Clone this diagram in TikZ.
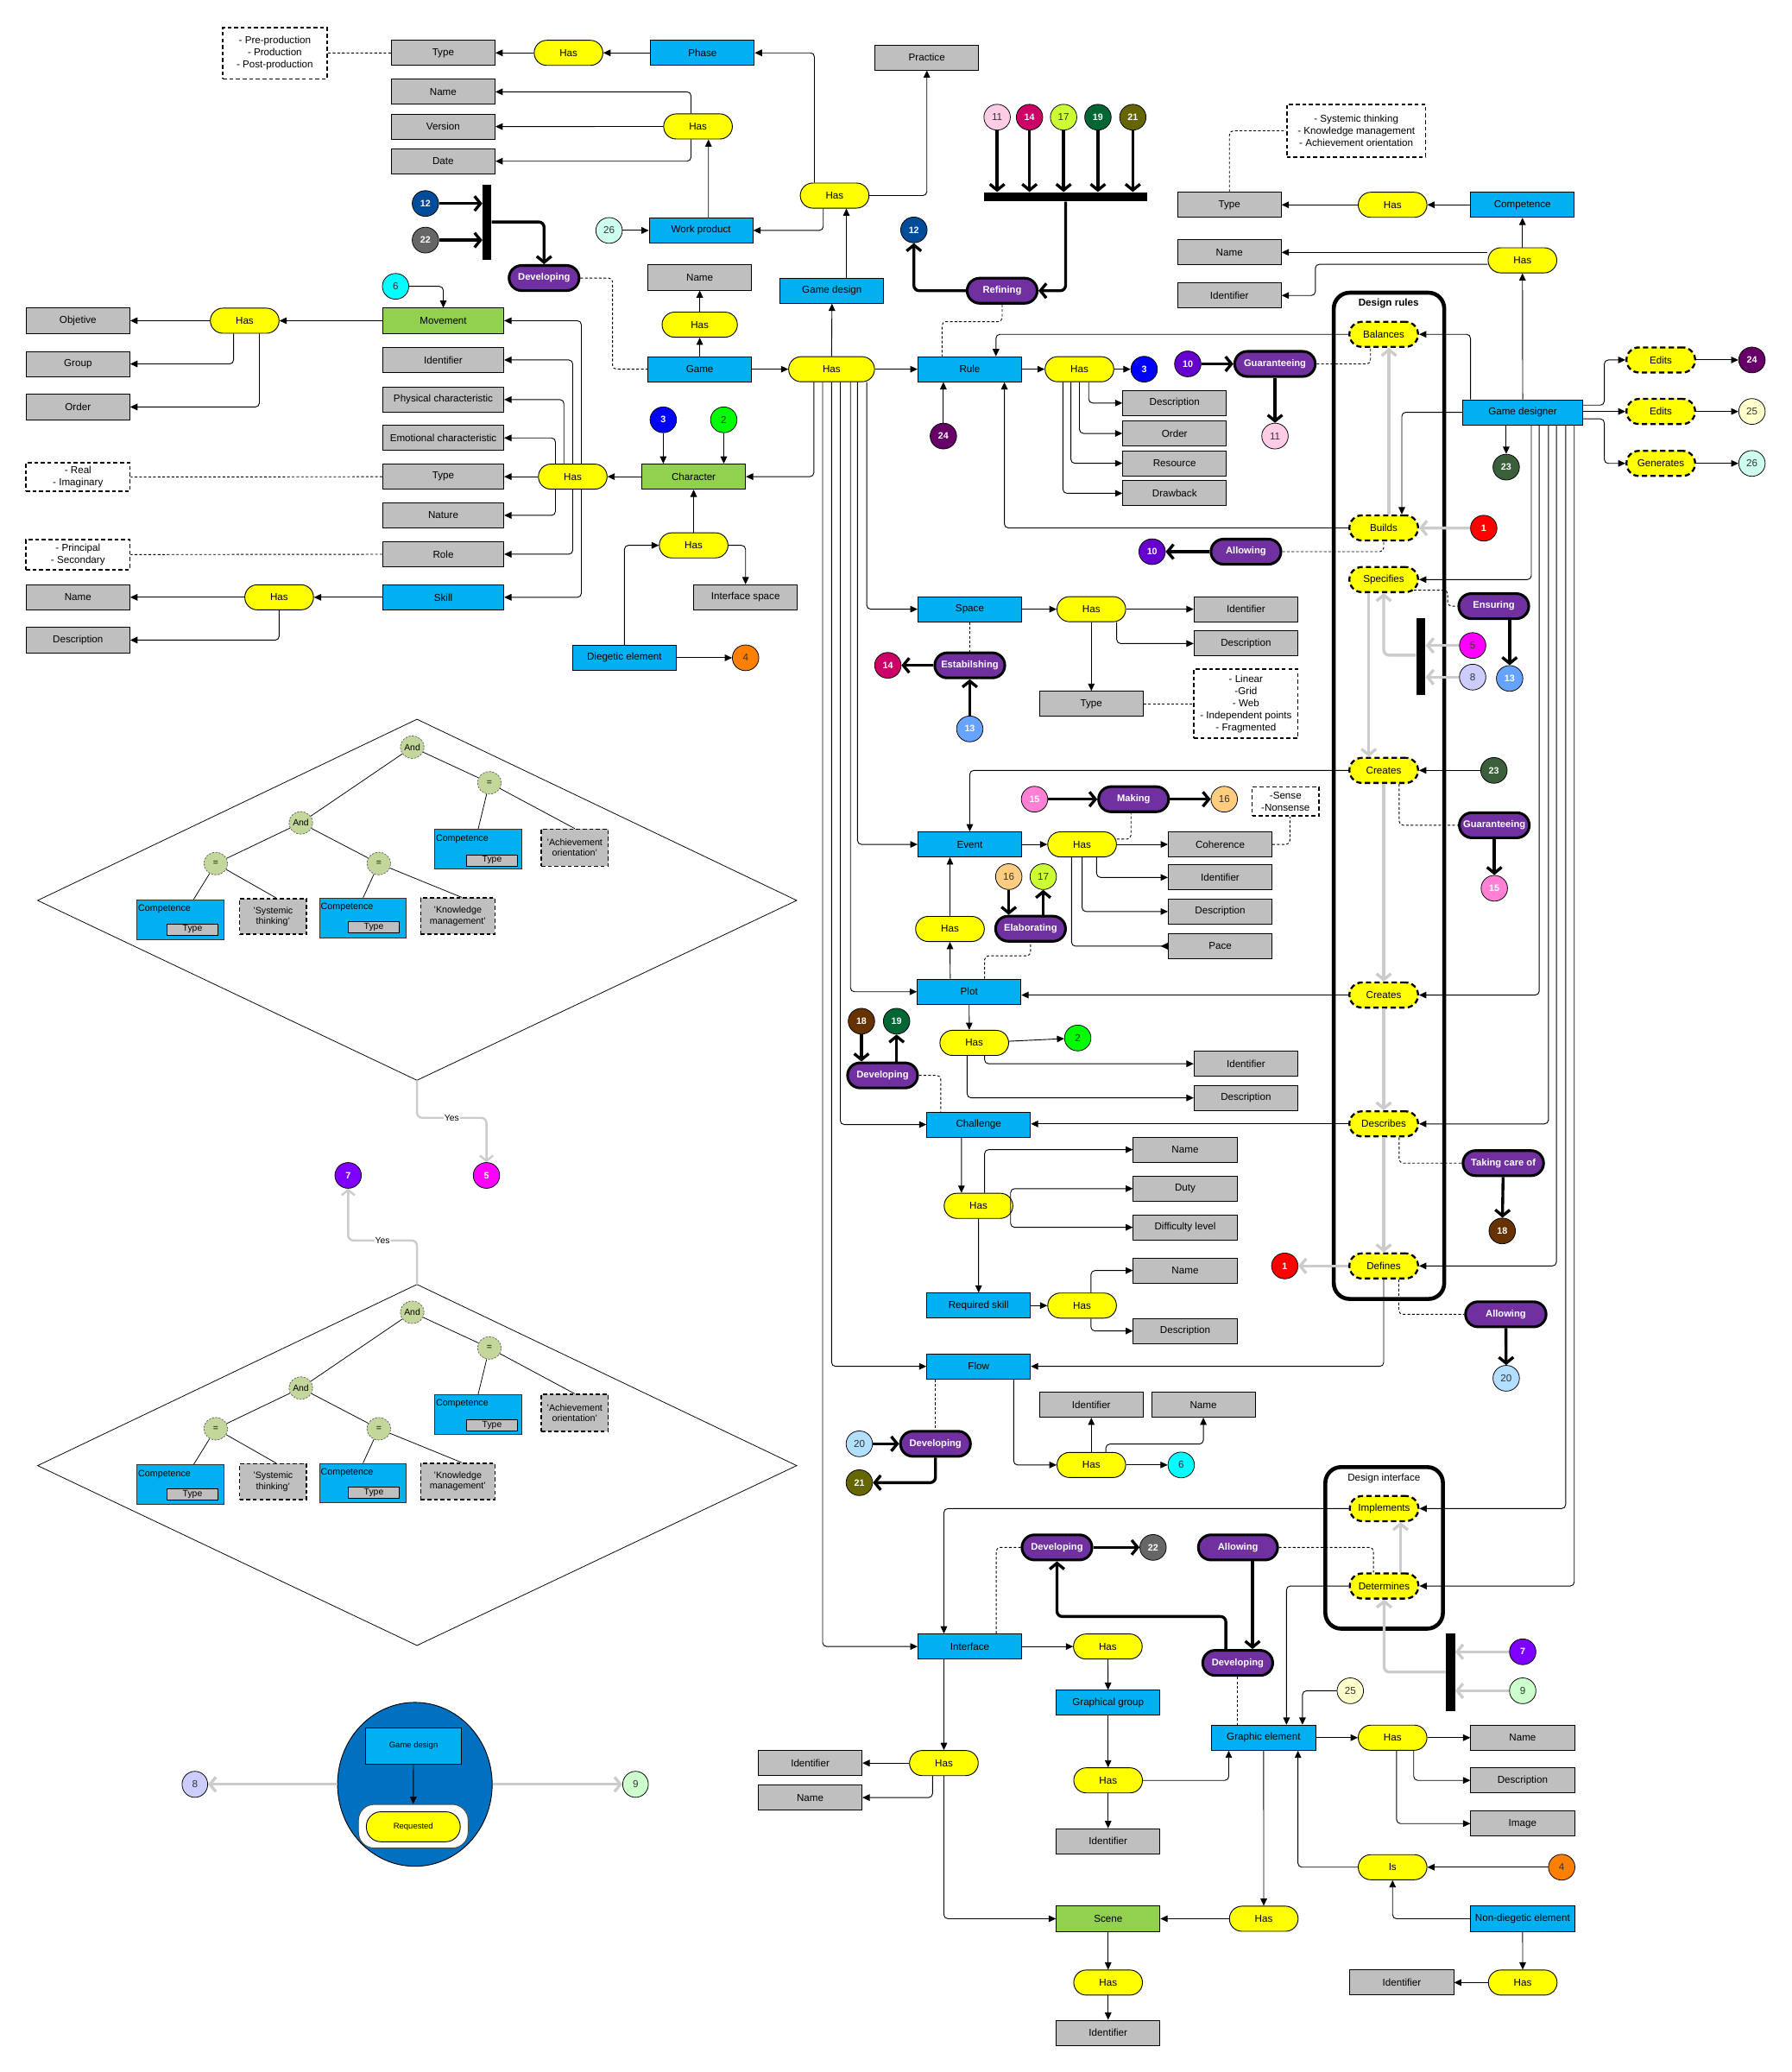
\documentclass[tikz,border=0pt]{standalone}
\usepackage{fontspec}
\setmainfont{Liberation Sans}
\usetikzlibrary{arrows.meta,shapes.geometric,calc}
\definecolor{cgray}{HTML}{BFBFBF}
\definecolor{cblue}{HTML}{00B0F0}
\definecolor{cgreen}{HTML}{92D050}
\definecolor{cyell}{HTML}{FFFF00}
\definecolor{cpurp}{HTML}{7030A0}
\definecolor{lgray}{HTML}{CCCCCC}
\definecolor{cball}{HTML}{0070C0}
\definecolor{ctree}{HTML}{C4D79B}
\definecolor{kA}{HTML}{FF0000}
\definecolor{kB}{HTML}{00FF00}
\definecolor{kC}{HTML}{0000FF}
\definecolor{kD}{HTML}{FF8000}
\definecolor{kE}{HTML}{FF00FF}
\definecolor{kF}{HTML}{00FFFF}
\definecolor{kG}{HTML}{7F00FF}
\definecolor{kH}{HTML}{CCCCFF}
\definecolor{kI}{HTML}{CCFFCC}
\definecolor{kJ}{HTML}{6600CC}
\definecolor{kK}{HTML}{FFCCE6}
\definecolor{kL}{HTML}{004C99}
\definecolor{kM}{HTML}{66A3FF}
\definecolor{kN}{HTML}{CC0066}
\definecolor{kO}{HTML}{FF80D5}
\definecolor{kP}{HTML}{FFCC80}
\definecolor{kQ}{HTML}{CCFF33}
\definecolor{kR}{HTML}{663300}
\definecolor{kS}{HTML}{006633}
\definecolor{kT}{HTML}{B3DFFF}
\definecolor{kU}{HTML}{666600}
\definecolor{kV}{HTML}{666666}
\definecolor{kW}{HTML}{3B5E3B}
\definecolor{kX}{HTML}{660066}
\definecolor{kY}{HTML}{FFFFCC}
\definecolor{kZ}{HTML}{CCFFEE}

\newcommand\mygtree[2]{%
\begin{scope}[yshift=-#2pt]
\draw[line width=0.5pt] (28.5,681.4) -- (315.6,544.3) -- (603,681.4) -- (315.6,817.5) -- cycle;
\coordinate (dt#1) at (315.6,544.3);
\coordinate (db#1) at (315.6,817.5);
\node[tell] (aA#1) at (312,565.4) {And};
\node[tell] (eR#1) at (370.4,592.4) {=};
\node[tell] (aB#1) at (227.7,622.7) {And};
\node[tell] (eL#1) at (163.3,653.5) {=};
\node[tell] (eM#1) at (286.7,653.5) {=};
\node[tcomp] (cR#1) at (361.9,642.7) {};
\node[tcap] at (cR#1.north west) {Competence};
\node[ttype] at (372.4,651) {Type};
\node[tq, minimum width=50.7pt, minimum height=28pt] (qR#1) at (435,641.5) {'Achievement\\orientation'};
\node[tcomp] (cL#1) at (136.6,695.8) {};
\node[tcap] at (cL#1.north west) {Competence};
\node[ttype] at (145.7,703.3) {Type};
\node[tq, minimum width=50.7pt, minimum height=27pt] (qL#1) at (206.7,693.5) {'Systemic\\thinking'};
\node[tcomp] (cM#1) at (274.8,694.7) {};
\node[tcap] at (cM#1.north west) {Competence};
\node[ttype] at (282.9,701.6) {Type};
\node[tq, minimum width=56.3pt, minimum height=27.4pt] (qM#1) at (346.5,693.3) {'Knowledge\\management'};
\draw[line width=0.5pt] (aA#1) -- (aB#1) (aA#1) -- (eR#1) (eR#1) -- (cR#1.north) (eR#1) -- (qR#1.north)
  (aB#1) -- (eL#1) (aB#1) -- (eM#1) (eL#1) -- ([xshift=10pt]cL#1.north) (eL#1) -- ([xshift=2.3pt]qL#1.north)
  (eM#1) -- (cM#1.north) (eM#1) -- ([xshift=3pt]qM#1.north);
\end{scope}}

\begin{document}
\begin{tikzpicture}[x=1pt,y=-1pt,
  every node/.style={font=\fontsize{7.6}{9.2}\selectfont, inner sep=1pt, align=center},
  basebox/.style={draw, line width=0.6pt, minimum height=19pt, text=black, rectangle},
  gbox/.style={basebox, fill=cgray, minimum width=78.5pt},
  bbox/.style={basebox, fill=cblue, minimum width=78.5pt},
  grbox/.style={basebox, fill=cgreen, minimum width=78.5pt},
  ybox/.style={basebox, rounded corners=9.5pt, fill=cyell, minimum width=52pt},
  ydash/.style={ybox, line width=1.5pt, dash pattern=on 4pt off 2.5pt},
  pbox/.style={draw, line width=2pt, rectangle, rounded corners=9.5pt, fill=cpurp, minimum width=53pt, minimum height=19pt, text=white, font=\bfseries\fontsize{7.3}{8}\selectfont},
  notebox/.style={draw, rectangle, line width=1.1pt, dash pattern=on 3pt off 2pt, fill=white},
  num/.style={ellipse, draw, line width=0.5pt, minimum width=20pt, minimum height=19.5pt, inner sep=0pt, text=black!80},
  wn/.style={num, text=white, font=\bfseries\fontsize{7}{8}\selectfont},
  barn/.style={fill=black, draw=none, rectangle, inner sep=0pt},
  ln/.style={draw, line width=0.6pt},
  arr/.style={ln, -{Triangle[length=5.5pt,width=5pt]}},
  rc/.style={rounded corners=3pt},
  dotl/.style={draw, line width=0.6pt, dash pattern=on 2pt off 1.5pt},
  thk/.style={draw, line width=2.2pt, rounded corners=4pt, -{Straight Barb[length=4.5pt,width=11pt]}},
  gthk/.style={draw=lgray, line width=2.2pt, rounded corners=4pt, -{Straight Barb[length=4.5pt,width=11pt]}},
  yesarr/.style={draw=lgray, line width=1.6pt, rounded corners=4pt, -{Straight Barb[length=4pt,width=10pt]}},
  tell/.style={ellipse, draw=black!60, fill=ctree, line width=0.5pt, dash pattern=on 1.5pt off 1pt, minimum width=18pt, minimum height=17pt, inner sep=0pt, font=\fontsize{6.8}{8}\selectfont},
  tcomp/.style={rectangle, draw=black!80, fill=cblue, line width=0.6pt, minimum width=65.7pt, minimum height=30pt},
  tcap/.style={anchor=north west, inner sep=1pt, yshift=-3pt, font=\fontsize{7}{8}\selectfont},
  ttype/.style={rectangle, draw, fill=cgray, line width=0.5pt, minimum width=39pt, minimum height=8.5pt, inner sep=0pt, font=\fontsize{6.8}{7}\selectfont},
  tq/.style={rectangle, draw, fill=cgray, line width=1pt, dash pattern=on 3pt off 2pt, inner sep=0.5pt, font=\fontsize{7}{8}\selectfont},
]
\useasboundingbox (0,0) rectangle (1356,1568);
\fill[white] (0,0) rectangle (1356,1568);

% ---------- containers ----------
\draw[line width=3pt, rounded corners=12pt] (1009.5,221.5) rectangle (1093.1,983);
\node[font=\bfseries\fontsize{7.6}{9}\selectfont] (drlab) at (1051,229.5) {Design rules};
\draw[line width=3pt, rounded corners=12pt] (1003.1,1110.2) rectangle (1092.1,1232.5);
\node (dilab) at (1047.5,1118.5) {Design interface};

% ---------- top-left ----------
\node[notebox, minimum width=78.8pt, minimum height=39pt] (noteP) at (208,40.2) {- Pre-production\\- Production\\- Post-production};
\node[gbox] (typeP) at (335.4,40) {Type};
\node[ybox] (hasP) at (430.3,40) {Has};
\node[bbox] (phase) at (531.7,40) {Phase};
\node[gbox] (practice) at (701.5,43.5) {Practice};
\node[gbox] (nameW) at (335.4,69.5) {Name};
\node[gbox] (verW) at (335.4,95.8) {Version};
\node[gbox] (dateW) at (335.4,122) {Date};
\node[ybox] (hasW) at (528.3,95.7) {Has};
\node[bbox] (wp) at (530.6,174.4) {Work product};
\node[num,fill=kZ] (n26a) at (461,174.4) {26};
\node[ybox] (hasGD) at (631.7,148) {Has};
\node[bbox] (gdes) at (629.7,220) {Game design};
\node[gbox] (nameG) at (529.6,210) {Name};
\node[ybox, minimum width=57pt] (hasG) at (529.6,245.7) {Has};
\node[bbox] (game) at (529.6,279.4) {Game};
\node[ybox, minimum width=65pt] (hasM) at (629.4,279.4) {Has};
\node[bbox] (rule) at (734,279.4) {Rule};
\node[ybox] (hasR) at (817,279.4) {Has};
\node[wn,fill=kC] (n3a) at (866,279.4) {3};
\node[gbox] (descR) at (889,305) {Description};
\node[gbox] (orderR) at (889,328) {Order};
\node[gbox] (resR) at (889,350.6) {Resource};
\node[gbox] (drawR) at (889,373.3) {Drawback};
\node[wn,fill=kX] (n24a) at (714,330) {24};
\node[wn,fill=kL] (n12a) at (691.7,174) {12};
\node[pbox] (refining) at (758.5,220) {Refining};
\node[num,fill=kK] (n11a) at (754.7,88.7) {11};
\node[wn,fill=kN] (n14a) at (779.2,88.7) {14};
\node[num,fill=kQ] (n17a) at (805,88.7) {17};
\node[wn,fill=kS] (n19a) at (831,88.7) {19};
\node[wn,fill=kU] (n21a) at (857.4,88.7) {21};
\node[barn, minimum width=123pt, minimum height=7pt] (barT) at (806.5,149) {};
\node[pbox] (devT) at (411.8,210.4) {Developing};
\node[wn,fill=kL] (n12b) at (322,154) {12};
\node[wn,fill=kV] (n22a) at (322,181.7) {22};
\node[barn, minimum width=6.6pt, minimum height=57pt] (barL) at (368.6,168) {};

% ---------- left ----------
\node[num,fill=kF] (n6a) at (299.4,216.7) {6};
\node[grbox, minimum width=91.6pt] (movement) at (335.5,242.7) {Movement};
\node[ybox] (hasMv) at (185.2,242.7) {Has};
\node[gbox] (objetive) at (59,242.7) {Objetive};
\node[gbox] (group) at (59,275.4) {Group};
\node[gbox] (orderM) at (59,308) {Order};
\node[gbox, minimum width=91.6pt] (idC) at (335.5,272.4) {Identifier};
\node[gbox, minimum width=91.6pt] (phys) at (335.5,302.4) {Physical characteristic};
\node[gbox, minimum width=91.6pt] (emo) at (335.5,331.4) {Emotional characteristic};
\node[gbox, minimum width=91.6pt] (typeC) at (335.5,360.7) {Type};
\node[gbox, minimum width=91.6pt] (nature) at (335.5,390) {Nature};
\node[gbox, minimum width=91.6pt] (role) at (335.5,419.4) {Role};
\node[bbox, minimum width=91.6pt] (skill) at (335.5,452) {Skill};
\node[ybox] (hasC) at (433.5,360.7) {Has};
\node[grbox] (character) at (525,360.7) {Character};
\node[wn,fill=kC] (n3b) at (502,317.7) {3};
\node[num,fill=kB] (n2a) at (547.8,317.7) {2};
\node[ybox] (hasCh) at (525,412.7) {Has};
\node[gbox] (ispace) at (564.3,452) {Interface space};
\node[bbox] (diegetic) at (472.6,497.8) {Diegetic element};
\node[num,fill=kD] (n4a) at (564.3,497.8) {4};
\node[notebox, minimum width=78.7pt, minimum height=21.8pt] (noteR) at (59,361) {- Real\\- Imaginary};
\node[notebox, minimum width=78.7pt, minimum height=22.6pt] (noteS) at (59,419.7) {- Principal\\- Secondary};
\node[gbox] (nameS) at (59,452) {Name};
\node[gbox] (descS) at (59,484.4) {Description};
\node[ybox] (hasS) at (211.3,452) {Has};

% ---------- right top ----------
\node[notebox, minimum width=105pt, minimum height=39.7pt] (noteC) at (1026.5,99) {- Systemic thinking\\- Knowledge management\\- Achievement orientation};
\node[gbox] (typeK) at (930.5,155) {Type};
\node[ybox] (hasK) at (1054,155) {Has};
\node[bbox] (comp) at (1152.3,155) {Competence};
\node[gbox] (nameK) at (930.5,191) {Name};
\node[gbox] (idK) at (930.5,223.6) {Identifier};
\node[ybox] (hasK2) at (1152.3,197) {Has};
\node[bbox, minimum width=91pt] (gd) at (1152.5,312) {Game designer};
\node[ydash] (balances) at (1047.3,253) {Balances};
\node[ydash] (builds) at (1047.3,399.5) {Builds};
\node[ydash] (specifies) at (1047.3,438.6) {Specifies};
\node[ydash] (creates1) at (1047.3,583) {Creates};
\node[ydash] (creates2) at (1047.3,753) {Creates};
\node[ydash] (describes) at (1047.3,850.5) {Describes};
\node[ydash] (defines) at (1047.3,958) {Defines};
\node[ydash] (edits1) at (1257,272.4) {Edits};
\node[ydash] (edits2) at (1257,311.4) {Edits};
\node[ydash] (generates) at (1257,350.7) {Generates};
\node[wn,fill=kX] (n24b) at (1326,272.4) {24};
\node[num,fill=kY] (n25a) at (1326,311.4) {25};
\node[num,fill=kZ] (n26b) at (1326,350.7) {26};
\node[wn,fill=kW] (n23a) at (1140,353.5) {23};
\node[wn,fill=kJ] (n10a) at (899,275.4) {10};
\node[pbox, minimum width=61pt] (guar1) at (965,275.4) {Guaranteeing};
\node[num,fill=kK] (n11b) at (965,330) {11};
\node[wn,fill=kA] (n1a) at (1123,399.7) {1};
\node[pbox] (allow1) at (943,417.5) {Allowing};
\node[wn,fill=kJ] (n10b) at (872,417.5) {10};
\node[pbox] (ensuring) at (1130.6,458.7) {Ensuring};
\node[wn,fill=kM] (n13a) at (1142.6,513.4) {13};
\node[barn, minimum width=7pt, minimum height=58.5pt] (barS) at (1075.4,497) {};
\node[num,fill=kE] (n5a) at (1114.6,488.5) {5};
\node[num,fill=kH] (n8a) at (1114.6,512.4) {8};
\node[wn,fill=kW] (n23b) at (1130.7,583) {23};
\node[pbox] (guar2) at (1131,624.5) {Guaranteeing};
\node[wn,fill=kO] (n15a) at (1131,672.2) {15};
\node[pbox, minimum width=61pt] (taking) at (1137.8,880.2) {Taking care of};
\node[wn,fill=kR] (n18a) at (1137,931.5) {18};
\node[wn,fill=kA] (n1b) at (972.4,958) {1};
\node[pbox, minimum width=61pt] (allow2) at (1139.7,994.6) {Allowing};
\node[num,fill=kT] (n20a) at (1140,1043) {20};

% ---------- middle ----------
\node[bbox] (space) at (734,461) {Space};
\node[ybox] (hasSp) at (826,461) {Has};
\node[gbox] (idSp) at (943,461) {Identifier};
\node[gbox] (descSp) at (943,487) {Description};
\node[gbox] (typeSp) at (826,532.6) {Type};
\node[notebox, minimum width=78.6pt, minimum height=52.2pt] (noteL) at (943,532.6) {- Linear\\-Grid\\- Web\\- Independent points\\- Fragmented};
\node[pbox] (estab) at (734,503.5) {Estabilshing};
\node[wn,fill=kN] (n14b) at (672,503.5) {14};
\node[wn,fill=kM] (n13b) at (734,551.6) {13};
\node[bbox] (event) at (734,639) {Event};
\node[ybox] (hasE) at (819,639) {Has};
\node[gbox] (coh) at (923.5,639) {Coherence};
\node[gbox] (idE) at (923.5,664) {Identifier};
\node[gbox] (descE) at (923.5,689.8) {Description};
\node[gbox] (pace) at (923.5,716) {Pace};
\node[notebox, minimum width=50.7pt, minimum height=22.1pt] (noteN) at (973,606.5) {-Sense\\-Nonsense};
\node[wn,fill=kO] (n15b) at (783,604.8) {15};
\node[pbox] (making) at (858,604.8) {Making};
\node[num,fill=kP] (n16a) at (926.6,604.8) {16};
\node[ybox] (hasPE) at (719,703) {Has};
\node[num,fill=kP] (n16b) at (763.5,663.4) {16};
\node[num,fill=kQ] (n17b) at (789.6,663.4) {17};
\node[pbox] (elab) at (780,702.8) {Elaborating};
\node[bbox] (plot) at (733.5,750.5) {Plot};
\node[ybox] (hasPl) at (737.4,789.2) {Has};
\node[num,fill=kB] (n2b) at (815.7,785.5) {2};
\node[gbox] (idPl) at (943,805) {Identifier};
\node[gbox] (descPl) at (943,830.8) {Description};
\node[wn,fill=kR] (n18b) at (652,772.8) {18};
\node[wn,fill=kS] (n19b) at (678.6,772.8) {19};
\node[pbox] (devP) at (668,813.8) {Developing};
\node[bbox] (challenge) at (740.7,851) {Challenge};
\node[ybox] (hasCl) at (740.6,912.5) {Has};
\node[gbox] (nameCl) at (897,870) {Name};
\node[gbox] (duty) at (897,899.5) {Duty};
\node[gbox] (diff) at (897,928.8) {Difficulty level};
\node[bbox] (reqs) at (740.7,988) {Required skill};
\node[ybox] (hasRS) at (819,988) {Has};
\node[gbox] (nameRS) at (897,961.5) {Name};
\node[gbox] (descRS) at (897,1007.2) {Description};
\node[bbox] (flow) at (740.7,1034) {Flow};
\node[gbox] (idF) at (826,1063) {Identifier};
\node[gbox] (nameF) at (910.8,1063) {Name};
\node[ybox] (hasF) at (826,1108.6) {Has};
\node[num,fill=kF] (n6b) at (894,1108.6) {6};
\node[pbox] (devF) at (708,1092.6) {Developing};
\node[num,fill=kT] (n20b) at (650.4,1092.6) {20};
\node[wn,fill=kU] (n21b) at (650.4,1122) {21};

% ---------- bottom ----------
\node[ydash] (impl) at (1047.6,1141.6) {Implements};
\node[ydash] (deter) at (1047.6,1200.2) {Determines};
\node[pbox] (devI) at (800,1171) {Developing};
\node[wn,fill=kV] (n22b) at (872.7,1171) {22};
\node[pbox, minimum width=60pt] (allow3) at (937,1171) {Allowing};
\node[pbox] (devG) at (936.8,1258.4) {Developing};
\node[bbox] (interface) at (734,1246) {Interface};
\node[ybox] (hasI) at (838.5,1246) {Has};
\node[bbox] (ggroup) at (838.7,1288.6) {Graphical group};
\node[ybox] (hasGG) at (838.7,1347.3) {Has};
\node[gbox] (idGG) at (838.7,1393.3) {Identifier};
\node[bbox] (ge) at (956.4,1315) {Graphic element};
\node[num,fill=kY] (n25b) at (1022,1279.5) {25};
\node[barn, minimum width=7pt, minimum height=59pt] (barI) at (1097.7,1265.3) {};
\node[wn,fill=kG] (n7a) at (1152.5,1250) {7};
\node[num,fill=kI] (n9a) at (1152.5,1279.5) {9};
\node[ybox] (hasGE) at (1054,1315) {Has};
\node[gbox] (nameGE) at (1152.4,1315) {Name};
\node[gbox] (descGE) at (1152.4,1347.3) {Description};
\node[gbox] (image) at (1152.4,1380) {Image};
\node[ybox] (is) at (1054,1413) {Is};
\node[num,fill=kD] (n4b) at (1182,1413) {4};
\node[bbox] (nd) at (1152.4,1452) {Non-diegetic element};
\node[ybox] (hasND) at (1152.5,1500.3) {Has};
\node[gbox] (idND) at (1061,1500.3) {Identifier};
\node[ybox] (hasI2) at (714.4,1334.2) {Has};
\node[gbox] (idI) at (613.2,1334.2) {Identifier};
\node[gbox] (nameI) at (613.2,1360.3) {Name};
\node[grbox] (scene) at (838.7,1452) {Scene};
\node[ybox] (hasGE2) at (956.5,1452) {Has};
\node[ybox] (hasSc) at (838.7,1500.3) {Has};
\node[gbox] (idSc) at (838.7,1538.3) {Identifier};

% ---------- left trees ----------
\mygtree{a}{0}
\mygtree{b}{427.7}
\node[wn,fill=kE,text=white] (n5b) at (368.2,889.5) {5};
\node[wn,fill=kG] (n7b) at (263.5,889.5) {7};
\draw[yesarr] (dba) |- ([yshift=33.6pt]n5b.north) node[pos=0.75,fill=white,inner sep=0.5pt,font=\fontsize{6.8}{8}\selectfont]{Yes} -- (n5b.north);
\draw[yesarr] (dtb) |- ([yshift=-39.2pt]n7b.south) node[pos=0.75,fill=white,inner sep=0.5pt,font=\fontsize{6.8}{8}\selectfont]{Yes} -- (n7b.south);

\node[ellipse, draw, line width=0.6pt, fill=cball, minimum width=117pt, minimum height=124pt] (ball) at (314,1350.3) {};
\node[rectangle, draw, line width=0.6pt, fill=cblue, minimum width=73pt, minimum height=27.7pt, font=\fontsize{6.2}{7}\selectfont] (ballgd) at (313,1321.3) {Game design};
\node[rectangle, rounded corners=12pt, draw=black!70, line width=0.6pt, fill=white, minimum width=83pt, minimum height=33pt] (ballw) at (312.8,1382) {};
\node[ybox, minimum width=71pt, minimum height=22.7pt, rounded corners=11pt, font=\fontsize{6.2}{7}\selectfont] (req) at (312.8,1382.4) {Requested};
\draw[arr] (ballgd) -- (ballw.north);
\node[num,fill=kH, minimum width=19.4pt, minimum height=19.7pt] (n8b) at (147.5,1350.3) {8};
\node[num,fill=kI, minimum width=19.4pt, minimum height=19.7pt] (n9b) at (481,1350.3) {9};
\draw[gthk] (ball.west) -- (n8b);
\draw[gthk] (ball.east) -- (n9b);

% ================= connectors =================
% top-left
\draw[arr] (hasP) -- (typeP);
\draw[arr] (phase) -- (hasP);
\draw[dotl] (typeP) -- (noteP);
\draw[arr,rc] ([xshift=-5.3pt]hasW.north) |- (nameW.east);
\draw[arr] (hasW) -- (verW);
\draw[arr,rc] ([xshift=-5.3pt]hasW.south) |- (dateW.east);
\draw[arr] ([xshift=5.6pt]wp.north) -- ([xshift=7.9pt]hasW.south);
\draw[arr] (n26a) -- (wp);
\draw[arr,rc] ([xshift=-15.3pt]hasGD.north) |- (phase.east);
\draw[arr,rc] (hasGD.east) -| (practice.south);
\draw[arr,rc] ([xshift=-8.6pt]hasGD.south) |- (wp.east);
\draw[arr] ([xshift=10.9pt]gdes.north) -- ([xshift=8.9pt]hasGD.south);
\draw[arr] (hasM.north) -- (gdes.south);
\draw[arr] (game) -- (hasM);
\draw[arr] (game) -- (hasG);
\draw[arr] (hasG) -- (nameG);
\draw[arr] (hasM) -- (rule);
\draw[arr,rc] ([xshift=-13.4pt]hasM.south) |- (character.east);
\draw[arr,rc] ([xshift=26.6pt]hasM.south) |- (space.west);
\draw[arr,rc] ([xshift=19.6pt]hasM.south) |- (event.west);
\draw[arr,rc] ([xshift=14.3pt]hasM.south) |- (plot.west);
\draw[arr,rc] ([xshift=6.6pt]hasM.south) |- (challenge.west);
\draw[arr,rc] (hasM.south) |- (flow.west);
\draw[arr,rc] ([xshift=-6.8pt]hasM.south) |- (interface.west);
% rule
\draw[arr] (rule) -- (hasR);
\draw[arr] (hasR) -- (n3a);
\draw[arr,rc] ([xshift=7pt]hasR.south) |- (descR.west);
\draw[arr,rc] (hasR.south) |- (orderR.west);
\draw[arr,rc] ([xshift=-6.5pt]hasR.south) |- (resR.west);
\draw[arr,rc] ([xshift=-12.5pt]hasR.south) |- (drawR.west);
\draw[arr] (n24a.north) -- ([xshift=-20pt]rule.south);
\draw[arr,rc] (balances.west) -| ([xshift=19.8pt]rule.north);
\draw[arr,rc] (builds.west) -| ([xshift=26.2pt]rule.south);
\draw[thk] (barT.south) |- (refining.east);
\draw[thk] (refining.west) -| (n12a.south);
\draw[dotl,rc] (refining.south) -- ([yshift=-12.9pt]refining.south) -| ([xshift=-21pt]rule.north);
\draw[thk] (n11a) -- (n11a |- barT.north);
\draw[thk] (n14a) -- (n14a |- barT.north);
\draw[thk] (n17a) -- (n17a |- barT.north);
\draw[thk] (n19a) -- (n19a |- barT.north);
\draw[thk] (n21a) -- (n21a |- barT.north);
\draw[thk] (n12b) -- (n12b -| barL.west);
\draw[thk] (n22a) -- (n22a -| barL.west);
\draw[thk] (barL.east) -| (devT.north);
\draw[dotl,rc] (devT.east) -| ([xshift=-26.4pt]game.west) -- (game.west);
% left
\draw[arr,rc] (n6a.east) -| (movement.north);
\draw[arr] (movement) -- (hasMv);
\draw[arr] (hasMv) -- (objetive);
\draw[arr,rc] ([xshift=-8.4pt]hasMv.south) |- (group.east);
\draw[arr,rc] ([xshift=11.1pt]hasMv.south) |- (orderM.east);
\draw[arr] (character) -- (hasC);
\draw[arr] (hasC) -- (typeC);
\draw[arr,rc] ([xshift=6.5pt]hasC.north) |- (movement.east);
\draw[arr,rc] (hasC.north) |- (idC.east);
\draw[arr,rc] ([xshift=-6.7pt]hasC.north) |- (phys.east);
\draw[arr,rc] ([xshift=-13.1pt]hasC.north) |- (emo.east);
\draw[arr,rc] ([xshift=-13.1pt]hasC.south) |- (nature.east);
\draw[arr,rc] (hasC.south) |- (role.east);
\draw[arr,rc] ([xshift=6.5pt]hasC.south) |- (skill.east);
\draw[dotl] (typeC) -- (noteR);
\draw[dotl] (role) -- (noteS);
\draw[arr] (skill) -- (hasS);
\draw[arr] (hasS) -- (nameS);
\draw[arr,rc] (hasS.south) |- (descS.east);
\draw[arr] (n3b) -- (n3b |- character.north);
\draw[arr] (n2a) -- (n2a |- character.north);
\draw[arr] (hasCh) -- (character);
\draw[arr,rc] (diegetic.north) |- (hasCh.west);
\draw[arr,rc] (hasCh.east) -| (ispace.north);
\draw[arr] (diegetic) -- (n4a);
% right top
\draw[arr] (comp) -- (hasK);
\draw[arr] (hasK) -- (typeK);
\draw[dotl,rc] (typeK.north) |- (noteC.west);
\draw[arr] (hasK2) -- (comp);
\draw[arr] (gd.north) -- (hasK2.south);
\draw[arr] (hasK2.west |- nameK.east) -- (nameK.east);
\draw[arr,rc] ([yshift=-3pt]hasK2.west) -| ([xshift=25.5pt]idK.east) -- (idK.east);
\draw[arr,rc] ([xshift=-39.5pt]gd.north) |- (balances.east);
\draw[arr,rc] (gd.west) -| ([xshift=13.7pt]builds.north);
\draw[arr] ([xshift=-12.5pt]gd.south) -- (n23a.north);
\draw[arr,rc] ([xshift=6.5pt]gd.south) |- (specifies.east);
\draw[arr,rc] ([xshift=12.5pt]gd.south) |- (creates2.east);
\draw[arr,rc] ([xshift=19.5pt]gd.south) |- (describes.east);
\draw[arr,rc] ([xshift=25.5pt]gd.south) |- (defines.east);
\draw[arr,rc] ([xshift=32.5pt]gd.south) |- (impl.east);
\draw[arr,rc] ([xshift=39pt]gd.south) |- (deter.east);
\draw[arr,rc] ([yshift=5.4pt]gd.east) -| ([xshift=-16pt]edits1.west) -- (edits1.west);
\draw[arr] (gd.east |- edits2.west) -- (edits2.west);
\draw[arr,rc] ([yshift=-5pt]gd.east) -| ([xshift=-16pt]generates.west) -- (generates.west);
\draw[arr] (edits1) -- (n24b);
\draw[arr] (edits2) -- (n25a);
\draw[arr] (generates) -- (n26b);
\draw[thk] (n10a) -- (guar1);
\draw[thk] (guar1) -- (n11b);
\draw[dotl,rc] (guar1.east) -| ([xshift=-10pt]balances.south);
\draw[thk] (allow1) -- (n10b);
\draw[dotl,rc] (allow1.east) -| (builds.south);
\draw[gthk] ([xshift=4pt]builds.north) -- ([xshift=4pt]balances.south);
\draw[gthk] (n1a) -- (builds);
\draw[gthk] ([xshift=-11.3pt]specifies.south) -- ([xshift=-11.3pt]creates1.north);
\draw[gthk] ([yshift=1.2pt]barS.west) -| (specifies.south);
\draw[gthk] (n5a) -- (n5a -| barS.east);
\draw[gthk] (n8a) -- (n8a -| barS.east);
\draw[thk] (n13a |- ensuring.south) -- (n13a.north);
\draw[dotl,rc] ([xshift=-4pt,yshift=-8pt]specifies.east) -| ([xshift=-7.4pt]ensuring.west) -- (ensuring.west);
\draw[arr] (n23b) -- (creates1);
\draw[arr,rc] (creates1.west) -| (event.north);
\draw[dotl,rc] ([xshift=11.7pt]creates1.south) |- (guar2.west);
\draw[thk] (guar2) -- (n15a);
\draw[gthk] (creates1) -- (creates2);
\draw[gthk] (creates2) -- (describes);
\draw[gthk] (describes) -- (defines);
\draw[gthk] (defines) -- (n1b);
\draw[arr] (creates2.west) -- (creates2.west -| plot.east);
\draw[arr] (describes.west) -- (describes.west -| challenge.east);
\draw[dotl,rc] ([xshift=11.7pt]describes.south) |- (taking.west);
\draw[thk] (taking) -- (n18a);
\draw[arr,rc] (defines.south) |- (flow.east);
\draw[dotl,rc] ([xshift=11.4pt]defines.south) |- (allow2.west);
\draw[thk] (allow2) -- (n20a);
% middle
\draw[arr] (space) -- (hasSp);
\draw[arr] (hasSp) -- (idSp);
\draw[arr,rc] ([xshift=19.2pt]hasSp.south) |- (descSp.west);
\draw[arr] (hasSp) -- (typeSp);
\draw[dotl] (typeSp) -- (noteL);
\draw[dotl] (space) -- (estab);
\draw[thk] (estab) -- (n14b);
\draw[thk] (n13b) -- (estab);
\draw[arr] (event) -- (hasE);
\draw[arr] (hasE) -- (coh);
\draw[arr,rc] ([xshift=11pt]hasE.south) |- (idE.west);
\draw[arr,rc] (hasE.south) |- (descE.west);
\draw[ln,rc,-{Triangle[length=5.5pt,width=5pt,reversed]}] ([xshift=-8pt]hasE.south) |- (pace.west);
\draw[dotl,rc] ([yshift=4pt]hasE.east) -| ([xshift=-2pt]making.south);
\draw[dotl,rc] (coh.east) -| ([xshift=3.3pt]noteN.south);
\draw[thk] (n15b) -- (making);
\draw[thk] (making) -- (n16a);
\draw[arr] ([xshift=-14.3pt]plot.north) -- (hasPE.south);
\draw[arr] (hasPE.north) -- ([xshift=-15pt]event.south);
\draw[thk] (n16b) -- (n16b |- elab.north);
\draw[thk] (n17b |- elab.north) -- (n17b);
\draw[dotl,rc] ([xshift=11.7pt]plot.north) |- ([yshift=-10pt]elab.south) -- (elab.south);
\draw[arr] (plot.south) -- ([xshift=-3.8pt]hasPl.north);
\draw[arr] (hasPl) -- (n2b);
\draw[arr,rc] ([xshift=7.8pt]hasPl.south) |- (idPl.west);
\draw[arr,rc] ([xshift=-5.4pt]hasPl.south) |- (descPl.west);
\draw[thk] (n18b) -- (n18b |- devP.north);
\draw[thk] (n19b |- devP.north) -- (n19b);
\draw[dotl,rc] (devP.east) -| ([xshift=-28.7pt]challenge.north);
\draw[arr] ([xshift=-13pt]challenge.south) -- ([xshift=-12.9pt]hasCl.north);
\draw[arr,rc] ([xshift=4.6pt]hasCl.north) |- (nameCl.west);
\draw[arr,rc] ([xshift=-2pt]hasCl.east) |- (duty.west);
\draw[arr,rc] ([xshift=-2pt]hasCl.east) |- (diff.west);
\draw[arr] (hasCl) -- (reqs);
\draw[arr] (reqs) -- (hasRS);
\draw[arr,rc] ([xshift=6.7pt]hasRS.north) |- (nameRS.west);
\draw[arr,rc] ([xshift=6.7pt]hasRS.south) |- (descRS.west);
\draw[arr,rc] ([xshift=26.5pt]flow.south) |- (hasF.west);
\draw[arr] (hasF) -- (n6b);
\draw[arr] (hasF) -- (idF);
\draw[arr,rc] ([xshift=11pt]hasF.north) |- ([yshift=-20pt]nameF.south) -- (nameF.south);
\draw[dotl] ([xshift=-32.7pt]flow.south) -- (devF.north);
\draw[thk] (n20b) -- (devF);
\draw[thk] (devF.south) |- (n21b.east);
% bottom
\draw[arr,rc] (impl.west) -| ([xshift=-19.6pt]interface.north);
\draw[arr,rc] (deter.west) -| ([xshift=17.3pt]ge.north);
\draw[gthk] ([xshift=12.4pt]deter.north) -- ([xshift=12.4pt]impl.south);
\draw[gthk] (barI.west) -| (deter.south);
\draw[gthk] (n7a) -- (n7a -| barI.east);
\draw[gthk] (n9a) -- (n9a -| barI.east);
\draw[dotl,rc] (allow3.east) -| ([xshift=-8.1pt]deter.north);
\draw[thk] ([xshift=11pt]allow3.south) -- ([xshift=11.2pt]devG.north);
\draw[thk] ([xshift=-9pt]devG.north) |- ([yshift=-41.8pt]devI.south) -- (devI.south);
\draw[thk] (devI) -- (n22b);
\draw[dotl,rc] ([xshift=20pt]interface.north) |- (devI.west);
\draw[dotl] (devG.south) -- (devG.south |- ge.north);
\draw[arr] (interface) -- (hasI);
\draw[arr] (hasI) -- (ggroup);
\draw[arr] (ggroup) -- (hasGG);
\draw[arr] (hasGG) -- (idGG);
\draw[arr,rc] (hasGG.east) -| ([xshift=-26.4pt]ge.south);
\draw[arr] ([xshift=-19.6pt]interface.south) -- (hasI2.north);
\draw[arr] (hasI2) -- (idI);
\draw[arr,rc] ([xshift=-8.6pt]hasI2.south) |- (nameI.east);
\draw[arr,rc] (hasI2.south) |- (scene.west);
\draw[arr,rc] (n25b.west) -| ([xshift=29.4pt]ge.north);
\draw[arr] (ge) -- (hasGE);
\draw[arr] (hasGE) -- (nameGE);
\draw[arr,rc] ([xshift=16pt]hasGE.south) |- (descGE.west);
\draw[arr,rc] ([xshift=3pt]hasGE.south) |- (image.west);
\draw[arr] (ge) -- (hasGE2);
\draw[arr] (hasGE2) -- (scene);
\draw[arr,rc] (is.west) -| ([xshift=26pt]ge.south);
\draw[arr] (n4b) -- (is);
\draw[arr,rc] (nd.west) -| (is.south);
\draw[arr] (nd) -- (hasND);
\draw[arr] (hasND) -- (idND);
\draw[arr] (scene) -- (hasSc);
\draw[arr] (hasSc) -- (idSc);
\end{tikzpicture}
\end{document}
